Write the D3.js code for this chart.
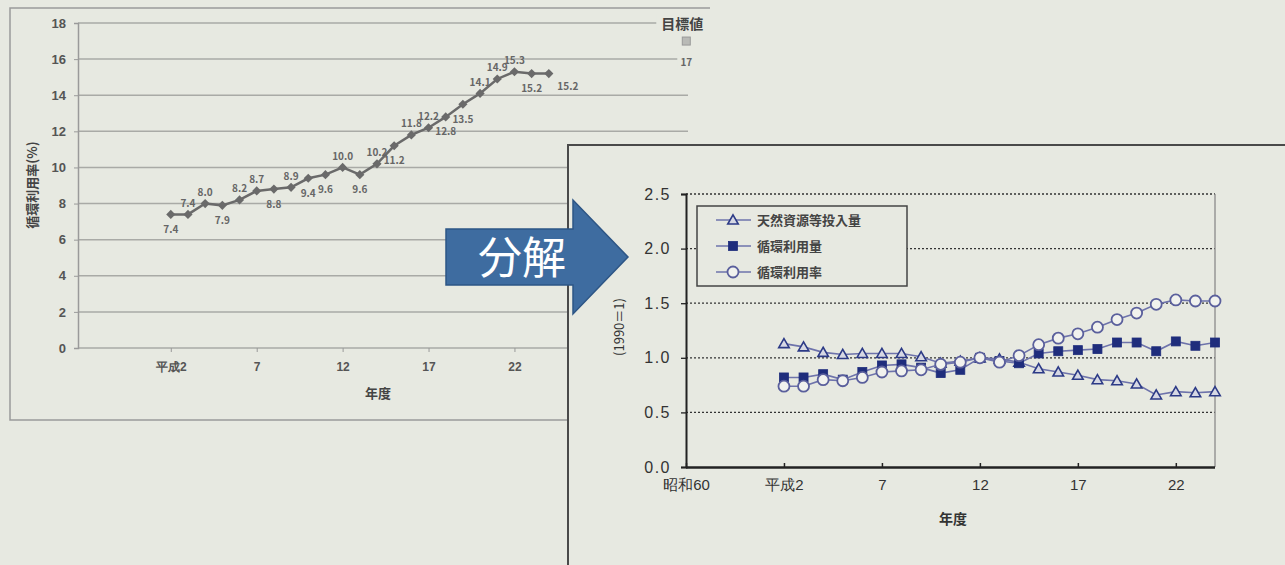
<!DOCTYPE html>
<html><head><meta charset="utf-8">
<script src="https://cdn.jsdelivr.net/npm/d3@7"></script>
<style>
html,body{margin:0;padding:0;background:#e7e9e1;}
svg{display:block;font-family:"Noto Sans CJK JP","Noto Sans",sans-serif;}
</style></head><body>
<svg id="c" width="1285" height="565"></svg>
<script>
// ---------- data ----------
const years = [2,3,4,5,6,7,8,9,10,11,12,13,14,15,16,17,18,19,20,21,22,23,24];
const recycleRate = [7.4,7.4,8.0,7.9,8.2,8.7,8.8,8.9,9.4,9.6,10.0,9.6,10.2,11.2,11.8,12.2,12.8,13.5,14.1,14.9,15.3,15.2,15.2];
const labelSide = ["b","a","a","b","a","a","b","a","b","b","a","b","a","b","a","a","b","b","a","a","a","b","r"];
const targetYears = [32];
const targetValues = [17];
const targetName = "目標値";
const leftYTicks = [0,2,4,6,8,10,12,14,16,18];
const leftXTicks = [2,7,12,17,22];
const leftXTickLabels = ["平成2","7","12","17","22"];

const seriesNames = ["天然資源等投入量","循環利用量","循環利用率"];
const naturalInput   = [1.13,1.10,1.05,1.03,1.04,1.04,1.04,1.01,0.95,0.97,1.00,0.99,0.96,0.90,0.87,0.84,0.80,0.79,0.76,0.66,0.69,0.68,0.69];
const recycleAmount  = [0.82,0.82,0.85,0.80,0.87,0.93,0.94,0.91,0.86,0.89,1.00,0.97,0.95,1.04,1.06,1.07,1.08,1.14,1.14,1.06,1.15,1.11,1.14];
const recycleRateIdx = [0.74,0.74,0.80,0.79,0.82,0.87,0.88,0.89,0.94,0.96,1.00,0.96,1.02,1.12,1.18,1.22,1.28,1.35,1.41,1.49,1.53,1.52,1.52];
const rightYTicks = [0,0.5,1.0,1.5,2.0,2.5];
const rightXTicks = [-3,2,7,12,17,22];
const rightXTickLabels = ["昭和60","平成2","7","12","17","22"];

// ---------- drawing ----------
const BG = "#e7e9e1";
const svg = d3.select("#c");

// ===== Left chart =====
const L = svg.append("g");
L.append("path").attr("d","M568,420 L10,420 L10,8 L710,8").attr("fill","none").attr("stroke","#9a9a9a").attr("stroke-width",1.5);

const xL = d3.scaleLinear().domain([-3.4,32.1]).range([78,688]);
const yL = d3.scaleLinear().domain([0,18]).range([348,23]);

L.append("g").selectAll("line").data(leftYTicks).join("line")
  .attr("x1",78).attr("x2",688).attr("y1",d=>yL(d)).attr("y2",d=>yL(d))
  .attr("stroke","#a9aaa6").attr("stroke-width",1.5);

const yAxL = L.append("g").attr("transform","translate(78,0)")
  .call(d3.axisLeft(yL).tickValues(leftYTicks).tickSize(4).tickPadding(8).tickFormat(d3.format("d")));
yAxL.select(".domain").attr("stroke","#9a9a9a").attr("stroke-width",1.5);
yAxL.selectAll(".tick line").attr("stroke","#9a9a9a");
yAxL.selectAll("text").attr("font-size",13).attr("font-weight","bold").attr("fill","#555");

const xAxL = L.append("g").attr("transform","translate(0,348)")
  .call(d3.axisBottom(xL).tickValues(leftXTicks).tickSize(4).tickPadding(10)
    .tickFormat((d,i)=>leftXTickLabels[i]));
xAxL.select(".domain").remove();
xAxL.selectAll(".tick line").attr("stroke","#9a9a9a");
xAxL.selectAll("text").attr("font-size",12).attr("font-weight","bold").attr("fill","#555");

L.append("text").attr("transform","translate(37,185) rotate(-90)").attr("text-anchor","middle")
  .attr("font-size",13).attr("font-weight","bold").attr("fill","#444").text("循環利用率(%)");
L.append("text").attr("x",378).attr("y",398).attr("text-anchor","middle")
  .attr("font-size",13).attr("font-weight","bold").attr("fill","#444").text("年度");

const lineL = d3.line().x((d,i)=>xL(years[i])).y(d=>yL(d));
L.append("path").datum(recycleRate).attr("d",lineL).attr("fill","none").attr("stroke","#6a6a6a").attr("stroke-width",2.5);
L.append("g").selectAll("path").data(recycleRate).join("path")
  .attr("d",d3.symbol(d3.symbolSquare,42))
  .attr("transform",(d,i)=>`translate(${xL(years[i])},${yL(d)}) rotate(45)`)
  .attr("fill","#6a6a6a");
const off = {a:[0,-11],b:[0,15],r:[19,13]};
L.append("g").selectAll("text").data(recycleRate).join("text")
  .attr("x",(d,i)=>xL(years[i])+off[labelSide[i]][0])
  .attr("y",(d,i)=>yL(d)+off[labelSide[i]][1])
  .attr("dy","0.35em").attr("text-anchor","middle")
  .attr("font-size",10).attr("font-weight","bold").attr("fill","#666")
  .text(d=>d3.format(".1f")(d));

// target
const tg = L.append("g");
targetYears.forEach((ty,i)=>{
  const tx = xL(ty), tyy = yL(targetValues[i]);
  tg.append("rect").attr("x",tx-30).attr("y",yL(18)-9).attr("width",60).attr("height",18).attr("fill",BG);
  tg.append("rect").attr("x",tx-9).attr("y",tyy+14).attr("width",18).attr("height",14).attr("fill",BG);
  tg.append("text").attr("x",tx-4).attr("y",yL(18)+1).attr("dy","0.35em").attr("text-anchor","middle")
    .attr("font-size",14).attr("font-weight","bold").attr("fill","#444").text(targetName);
  tg.append("rect").attr("x",tx-4).attr("y",tyy-4).attr("width",8).attr("height",8)
    .attr("fill","#b9bab6").attr("stroke","#999").attr("stroke-width",1);
  tg.append("text").attr("x",tx).attr("y",tyy+21).attr("dy","0.35em").attr("text-anchor","middle")
    .attr("font-size",10).attr("font-weight","bold").attr("fill","#666").text(targetValues[i]);
});

// ===== Right chart =====
const R = svg.append("g");
R.append("rect").attr("x",568).attr("y",145).attr("width",730).attr("height",430)
  .attr("fill",BG).attr("stroke","#4a4a4a").attr("stroke-width",2);

const xR = d3.scaleLinear().domain([-3,24]).range([686,1215]);
const yR = d3.scaleLinear().domain([0,2.5]).range([467,194]);

R.append("g").selectAll("line").data(rightYTicks.filter(d=>d>0)).join("line")
  .attr("x1",686).attr("x2",1215).attr("y1",d=>yR(d)).attr("y2",d=>yR(d))
  .attr("stroke","#333").attr("stroke-width",1.3).attr("stroke-dasharray","2,2");
R.append("line").attr("x1",1215).attr("x2",1215).attr("y1",194).attr("y2",467)
  .attr("stroke","#8a8a8a").attr("stroke-width",1.3);

const yAxR = R.append("g").attr("transform","translate(686,0)")
  .call(d3.axisLeft(yR).tickValues(rightYTicks).tickSize(5).tickPadding(10).tickFormat(d3.format(".1f")));
yAxR.select(".domain").attr("stroke","#222").attr("stroke-width",2);
yAxR.selectAll(".tick line").attr("stroke","#222").attr("stroke-width",1.3);
yAxR.selectAll("text").attr("font-size",16).attr("fill","#333").attr("letter-spacing","1.5px");

const xAxR = R.append("g").attr("transform","translate(0,467)")
  .call(d3.axisBottom(xR).tickValues(rightXTicks).tickSize(-4).tickSizeOuter(0).tickPadding(12)
    .tickFormat((d,i)=>rightXTickLabels[i]));
xAxR.select(".domain").attr("stroke","#222").attr("stroke-width",2.5).attr("d","M686,0.5H1215");
xAxR.selectAll(".tick line").attr("stroke","#222").attr("stroke-width",1.5);
xAxR.selectAll("text").attr("font-size",15).attr("fill","#333");

R.append("text").attr("transform","translate(619,327) rotate(-90)").attr("text-anchor","middle")
  .attr("dy","0.35em").attr("font-size",13).attr("fill","#333").text("(1990＝1)");
R.append("text").attr("x",953).attr("y",524).attr("text-anchor","middle")
  .attr("font-size",14).attr("font-weight","bold").attr("fill","#333").text("年度");

const LINE_C = "#6e73ab";
const lineR = d3.line().x((d,i)=>xR(years[i])).y(d=>yR(d));
function drawMarker(g, type){
  if(type==="tri"){
    g.append("path").attr("d",d3.symbol(d3.symbolTriangle,48)).attr("transform","translate(0,1)")
      .attr("fill","#d6d8e4").attr("stroke","#2c3a86").attr("stroke-width",1.6);
  } else if(type==="sq"){
    g.append("rect").attr("x",-4.5).attr("y",-4.5).attr("width",9).attr("height",9)
      .attr("fill","#1f2d7c").attr("stroke","#1f2d7c").attr("stroke-width",0.8);
  } else {
    g.append("circle").attr("r",5.5).attr("fill","#f1f2ee").attr("stroke","#5a5f9c").attr("stroke-width",1.8);
  }
}
const seriesData = [naturalInput, recycleAmount, recycleRateIdx];
const seriesMarker = ["tri","sq","circ"];
seriesData.forEach((s,k)=>{
  R.append("path").datum(s).attr("d",lineR).attr("fill","none").attr("stroke",LINE_C).attr("stroke-width",1.6);
  R.append("g").selectAll("g").data(s).join("g")
    .attr("transform",(d,i)=>`translate(${xR(years[i])},${yR(d)})`)
    .each(function(){ drawMarker(d3.select(this), seriesMarker[k]); });
});

// legend
const lg = R.append("g");
lg.append("rect").attr("x",697).attr("y",206).attr("width",210).attr("height",80)
  .attr("fill",BG).attr("stroke","#444").attr("stroke-width",1.5);
seriesNames.forEach((n,k)=>{
  const y = 220 + k*26;
  lg.append("line").attr("x1",716).attr("x2",751).attr("y1",y).attr("y2",y).attr("stroke",LINE_C).attr("stroke-width",1.6);
  drawMarker(lg.append("g").attr("transform",`translate(733,${y})`), seriesMarker[k]);
  lg.append("text").attr("x",757).attr("y",y).attr("dy","0.35em").attr("font-size",13)
    .attr("font-weight","bold").attr("fill","#444").text(n);
});

// ===== Arrow =====
const A = svg.append("g");
A.append("path").attr("d","M446,229 L573,229 L573,200 L628,257 L573,314 L573,285 L446,285 Z")
  .attr("fill","#3e6ca0").attr("stroke","#2d5585").attr("stroke-width",1.5);
A.append("text").attr("x",522).attr("y",258).attr("dy","0.36em").attr("text-anchor","middle")
  .attr("font-size",44).attr("fill","#ffffff").text("分解");
</script>
</body></html>
